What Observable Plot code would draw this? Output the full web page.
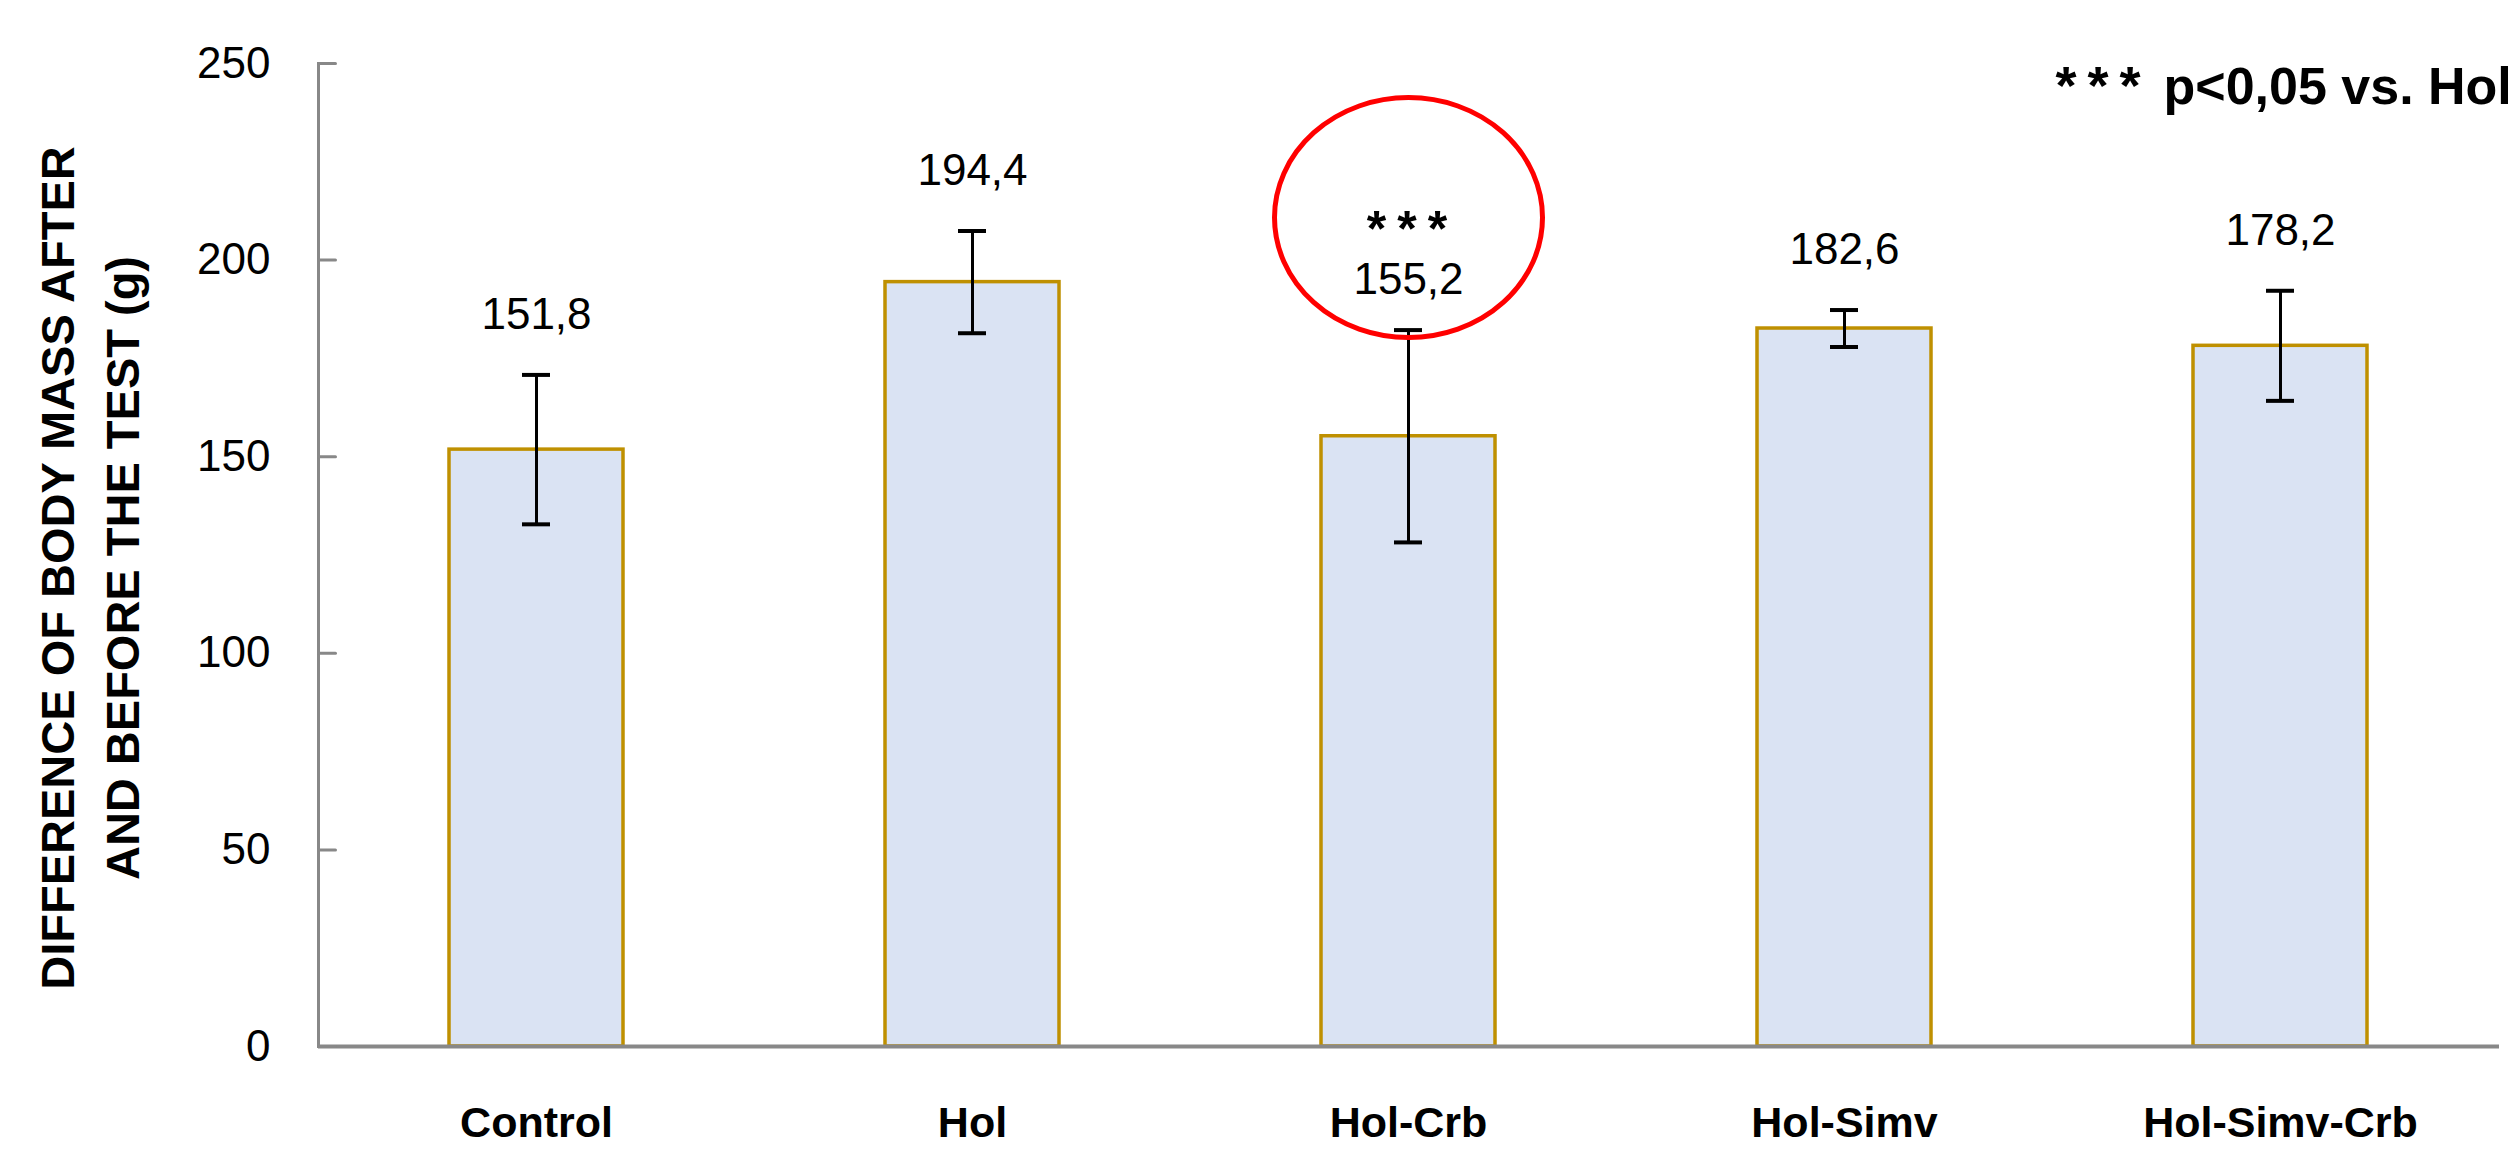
<!DOCTYPE html>
<html>
<head>
<meta charset="utf-8">
<script src="https://cdn.jsdelivr.net/npm/d3@7"></script>
<script src="https://cdn.jsdelivr.net/npm/@observablehq/plot@0.6"></script>
<style>
  html, body { margin: 0; padding: 0; background: white; overflow: hidden; }
</style>
</head>
<body>
<div id="chart"></div>
<script>
const categories = ["Control", "Hol", "Hol-Crb", "Hol-Simv", "Hol-Simv-Crb"];
const means = [151.8, 194.4, 155.2, 182.6, 178.2];
const sds = [19, 13, 27, 4.7, 14];
const valueLabels = ["151,8", "194,4", "155,2", "182,6", "178,2"];
const significant = [false, false, true, false, false];
const yTicks = [0, 50, 100, 150, 200, 250];
const yTitle = ["DIFFERENCE OF BODY MASS AFTER", "AND BEFORE THE TEST (g)"];
const legendStars = "***";
const legendText = "p<0,05 vs. Hol";
const starText = "***";

const data = categories.map((c, i) => ({cat: c, mean: means[i], sd: sds[i], label: valueLabels[i], sig: significant[i]}));
const plain = data.filter(d => !d.sig);
const marked = data.filter(d => d.sig);

const font = "'Liberation Sans', Arial, sans-serif";
const lineShape = {draw(context, l) { context.moveTo(0, 0); context.lineTo(0, -l); }};

const plot = Plot.plot({
  width: 2518,
  height: 1151,
  marginLeft: 318,
  marginRight: 19,
  marginTop: 63,
  marginBottom: 105,
  style: {fontFamily: font, background: "white", color: "black", maxWidth: "none"},
  x: {domain: categories, paddingInner: 0.6, paddingOuter: 0.3, axis: null},
  y: {domain: [0, 250], axis: null},
  marks: [
    Plot.barY(data, {x: "cat", y: "mean", fill: "#DAE3F3", stroke: "#BF9000", strokeWidth: 3.5}),
    Plot.ruleX(data, {x: "cat", y1: d => d.mean - d.sd, y2: d => d.mean + d.sd, stroke: "black", strokeWidth: 3}),
    Plot.tickY(data, {x: "cat", y: d => d.mean + d.sd, insetLeft: 73, insetRight: 73, stroke: "black", strokeWidth: 4}),
    Plot.tickY(data, {x: "cat", y: d => d.mean - d.sd, insetLeft: 73, insetRight: 73, stroke: "black", strokeWidth: 4}),
    Plot.ruleY([0], {stroke: "#888888", strokeWidth: 4}),
    Plot.frame({anchor: "left", stroke: "#888888", strokeWidth: 3}),
    Plot.vector(yTicks, {y: d => d, frameAnchor: "left", length: 17, rotate: 90, anchor: "start", shape: lineShape, stroke: "#888888", strokeWidth: 3}),
    Plot.text(yTicks, {y: d => d, text: d => String(d), frameAnchor: "left", textAnchor: "end", lineAnchor: "middle", dx: -48, fontSize: 44, fill: "black"}),
    Plot.text(categories, {x: d => d, text: d => d, frameAnchor: "bottom", lineAnchor: "middle", dy: 77, fontSize: 43, fontWeight: "bold", fill: "black"}),
    Plot.text(plain, {x: "cat", y: d => d.mean + d.sd, text: "label", lineAnchor: "middle", dy: -60, fontSize: 44, fill: "black"}),
    Plot.text(marked, {x: "cat", y: d => d.mean + d.sd, text: "label", lineAnchor: "middle", dy: -50, fontSize: 44, fill: "black"}),
    Plot.text(marked, {x: "cat", y: d => d.mean + d.sd, text: () => starText, lineAnchor: "middle", dy: -100, dx: 4, fontSize: 50, fontWeight: "bold", fill: "black"}),
    Plot.text([yTitle[0]], {text: d => d, frameAnchor: "left", textAnchor: "middle", lineAnchor: "middle", rotate: -90, dx: -260, dy: 13, fontSize: 47, fontWeight: "bold", fill: "black"}),
    Plot.text([yTitle[1]], {text: d => d, frameAnchor: "left", textAnchor: "middle", lineAnchor: "middle", rotate: -90, dx: -195, dy: 13, fontSize: 47, fontWeight: "bold", fill: "black"}),
    Plot.text([legendStars], {text: d => d, frameAnchor: "top-right", textAnchor: "start", lineAnchor: "middle", dx: -444, dy: 23, fontSize: 54, fontWeight: "bold", fill: "black"}),
    Plot.text([legendText], {text: d => d, frameAnchor: "top-right", textAnchor: "start", lineAnchor: "middle", dx: -336, dy: 24, fontSize: 52, fontWeight: "bold", fill: "black"})
  ]
});

// spread the asterisks like the reference
d3.select(plot).selectAll("text").filter(function() { return this.textContent === "***"; })
  .attr("letter-spacing", 11);

// red ellipse around the significant bar's annotation, placed via the plot's scales
const xs = plot.scale("x");
const ys = plot.scale("y");
const sx = d3.scaleBand().domain(xs.domain).range(xs.range).paddingInner(xs.paddingInner ?? 0.6).paddingOuter(xs.paddingOuter ?? 0.3);
const sy = d3.scaleLinear().domain(ys.domain).range(ys.range);
const svg = d3.select(plot);
marked.forEach(d => {
  svg.append("ellipse")
    .attr("cx", sx(d.cat) + sx.bandwidth() / 2)
    .attr("cy", sy(d.mean + d.sd) - 112)
    .attr("rx", 134)
    .attr("ry", 120)
    .attr("fill", "none")
    .attr("stroke", "#FF0000")
    .attr("stroke-width", 5);
});

document.getElementById("chart").appendChild(plot);
</script>
</body>
</html>
